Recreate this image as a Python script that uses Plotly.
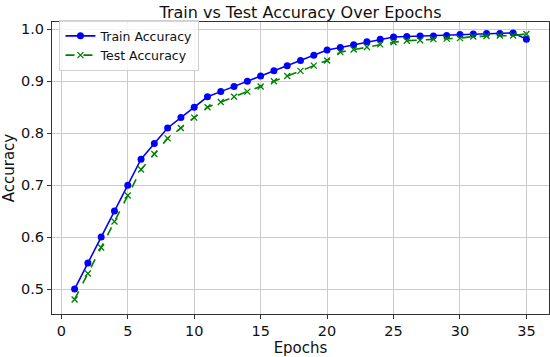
import plotly.graph_objects as go

epochs = list(range(1, 36))
train_acc = [0.50, 0.55, 0.60, 0.65, 0.70, 0.75, 0.78, 0.81, 0.83, 0.85,
             0.87, 0.88, 0.89, 0.90, 0.91, 0.92, 0.93, 0.94, 0.95, 0.96,
             0.965, 0.97, 0.976, 0.981, 0.985, 0.986, 0.987, 0.987, 0.988, 0.99,
             0.991, 0.992, 0.992, 0.993, 0.981]
test_acc = [0.48, 0.53, 0.58, 0.63, 0.68, 0.73, 0.76, 0.79, 0.81, 0.83,
            0.85, 0.86, 0.87, 0.88, 0.89, 0.90, 0.91, 0.92, 0.93, 0.94,
            0.956, 0.961, 0.966, 0.971, 0.975, 0.978, 0.979, 0.981, 0.982, 0.983,
            0.986, 0.987, 0.988, 0.988, 0.991]
x_ticks = [0, 5, 10, 15, 20, 25, 30, 35]
y_ticks = [0.5, 0.6, 0.7, 0.8, 0.9, 1.0]

FONT = "DejaVu Sans"

fig = go.Figure()
fig.add_trace(go.Scatter(x=epochs, y=train_acc, mode="lines+markers", name="Train Accuracy",
                         line=dict(color="#0000ff", width=1.6),
                         marker=dict(symbol="circle", size=7, color="#0000ff")))
fig.add_trace(go.Scatter(x=epochs, y=test_acc, mode="lines+markers", name="Test Accuracy",
                         line=dict(color="#008000", width=1.6, dash="dash"),
                         marker=dict(symbol="x-thin", size=6, color="#008000",
                                     line=dict(color="#008000", width=1.3))))

axis_common = dict(showgrid=True, gridcolor="#cccccc", gridwidth=1, showline=True,
                   linecolor="#333", linewidth=1, mirror=True, ticks="outside",
                   ticklen=4, tickcolor="#333", zeroline=False, automargin=False,
                   tickfont=dict(family=FONT, size=14.5, color="#111"))

fig.update_layout(
    width=550, height=357,
    margin=dict(l=52, r=1, t=22, b=43),
    paper_bgcolor="white", plot_bgcolor="white",
    title=dict(text="Train vs Test Accuracy Over Epochs", xref="paper", x=0.5, xanchor="center",
               y=0.966, yanchor="middle",
               font=dict(family=FONT, size=16, color="#111")),
    xaxis=dict(range=[-0.7, 36.7], tickvals=x_ticks,
               title=dict(text="Epochs", font=dict(family=FONT, size=15, color="#111"), standoff=4),
               **axis_common),
    yaxis=dict(range=[0.452, 1.014], tickvals=y_ticks, tickformat=".1f",
               title=dict(text="Accuracy", font=dict(family=FONT, size=15, color="#111"), standoff=3),
               **axis_common),
    legend=dict(x=0.015, y=1.006, xanchor="left", yanchor="top",
                bgcolor="rgba(255,255,255,0.8)", bordercolor="#d0d0d0", borderwidth=1,
                font=dict(family=FONT, size=12.5, color="#111"), tracegroupgap=0),
    showlegend=True,
)

fig.write_html("out.html", config={"displayModeBar": False},
               post_script="document.body.style.margin='0';")
